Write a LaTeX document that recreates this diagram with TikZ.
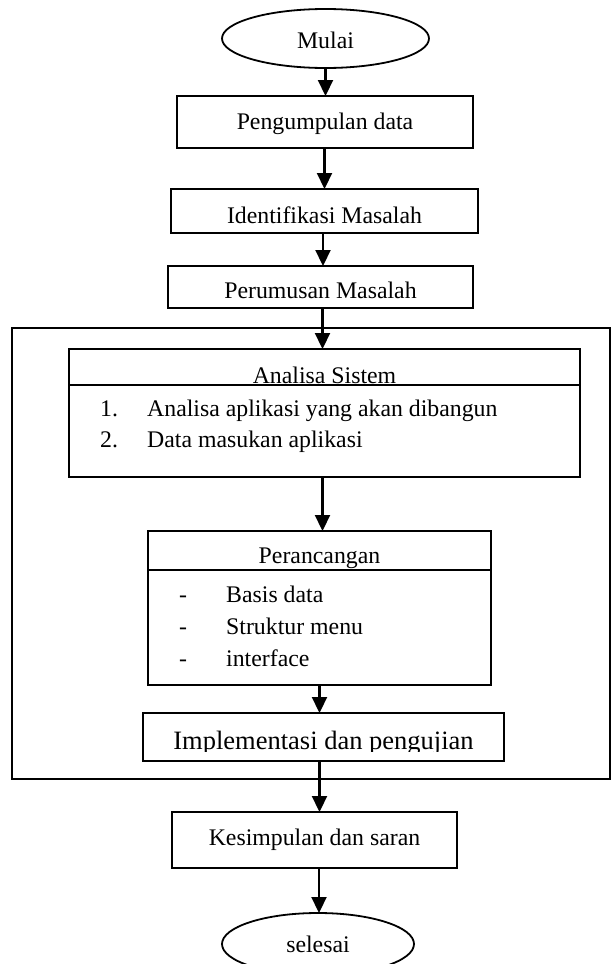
\documentclass[tikz,border=0pt]{standalone}
\usepackage{fontspec}
\setmainfont{Liberation Serif}
\usetikzlibrary{arrows.meta,shapes.geometric}
\newcommand{\fsnorm}{\fontsize{23.8}{28}\selectfont}
\newcommand{\fsbig}{\fontsize{26.5}{31}\selectfont}
\begin{document}
\begin{tikzpicture}[x=1pt,y=-1pt,
  box/.style={draw, line width=1.8pt, rectangle, inner sep=0pt, outer sep=0pt},
  oval/.style={draw, line width=1.8pt, ellipse, inner sep=0pt, outer sep=0pt},
  txt/.style={anchor=base, inner sep=0pt, font=\fsnorm},
  ltxt/.style={anchor=base west, inner sep=0pt, font=\fsnorm},
  arr/.style={line width=2.2pt, -{Triangle[width=15pt,length=16pt]}},
  divider/.style={line width=1.8pt}]
\clip (0,0) rectangle (611,964);
\path[use as bounding box] (0,0) rectangle (611,964);

% outer frame
\node[box, minimum width=598pt, minimum height=451pt] (outer) at (311,553.5) {};

% nodes
\node[oval, minimum width=207pt, minimum height=59pt] (mulai) at (325.5,38.5) {};
\node[txt] (tmulai) at (325.5,48) {Mulai};

\node[box, minimum width=296pt, minimum height=52pt] (kumpul) at (325,122) {};
\node[txt] (tkumpul) at (325,129) {Pengumpulan data};

\node[box, minimum width=307pt, minimum height=44pt] (ident) at (324.5,211) {};
\node[txt] (tident) at (324.5,223) {Identifikasi Masalah};

\node[box, minimum width=305pt, minimum height=42pt] (rumus) at (320.5,287) {};
\node[txt] (trumus) at (320.5,298) {Perumusan Masalah};

\node[box, minimum width=511pt, minimum height=128pt] (analisa) at (324.5,413) {};
\coordinate (adiv) at (0,385);
\draw[divider] (analisa.west |- adiv) -- (analisa.east |- adiv);
\node[txt] (tanalisa) at (324.5,383) {Analisa Sistem};
\node[ltxt] (a1n) at (100,416) {1.};
\node[ltxt] (a1) at (147,416) {Analisa aplikasi yang akan dibangun};
\node[ltxt] (a2n) at (100,447) {2.};
\node[ltxt] (a2) at (147,447) {Data masukan aplikasi};

\node[box, minimum width=343pt, minimum height=154pt] (rancang) at (319.5,608) {};
\coordinate (rdiv) at (0,570);
\draw[divider] (rancang.west |- rdiv) -- (rancang.east |- rdiv);
\node[txt] (trancang) at (319.5,563) {Perancangan};
\node[ltxt] (r1n) at (179,602) {-};
\node[ltxt] (r1) at (226,602) {Basis data};
\node[ltxt] (r2n) at (179,634) {-};
\node[ltxt] (r2) at (226,634) {Struktur menu};
\node[ltxt] (r3n) at (179,666) {-};
\node[ltxt] (r3) at (226,666) {interface};

\node[box, minimum width=361pt, minimum height=48pt] (impl) at (323.5,737) {};
\begin{scope}
\clip (143,713) rectangle (504,751.5);
\node[txt, font=\fsbig] (timpl) at (323.5,749) {Implementasi dan pengujian};
\end{scope}

\node[box, minimum width=285pt, minimum height=56pt] (simpul) at (314.5,840) {};
\node[txt] (tsimpul) at (314.5,845) {Kesimpulan dan saran};

\node[oval, minimum width=192pt, minimum height=62pt] (selesai) at (318,944) {};
\node[txt] (tselesai) at (318,952) {selesai};

% connectors
\draw[arr] (mulai.south) -- (mulai.south |- kumpul.north);
\draw[arr] (kumpul.south -| ident.north) -- (ident.north);
\draw[arr] (ident.south -| tident.base) ++(-1.5,0) coordinate (c1) -- (c1 |- rumus.north);
\draw[arr] (rumus.south -| analisa.north) ++(-2,0) coordinate (c2) -- (c2 |- analisa.north);
\draw[arr] (analisa.south -| rancang.north) ++(3,0) coordinate (c3) -- (c3 |- rancang.north);
\draw[arr] (rancang.south) -- (rancang.south |- impl.north);
\draw[arr] (impl.south -| rancang.south) coordinate (c4) -- (c4 |- simpul.north);
\draw[arr] (simpul.south -| selesai.north) ++(1,0) coordinate (c5) -- (c5 |- selesai.north);
\end{tikzpicture}
\end{document}
